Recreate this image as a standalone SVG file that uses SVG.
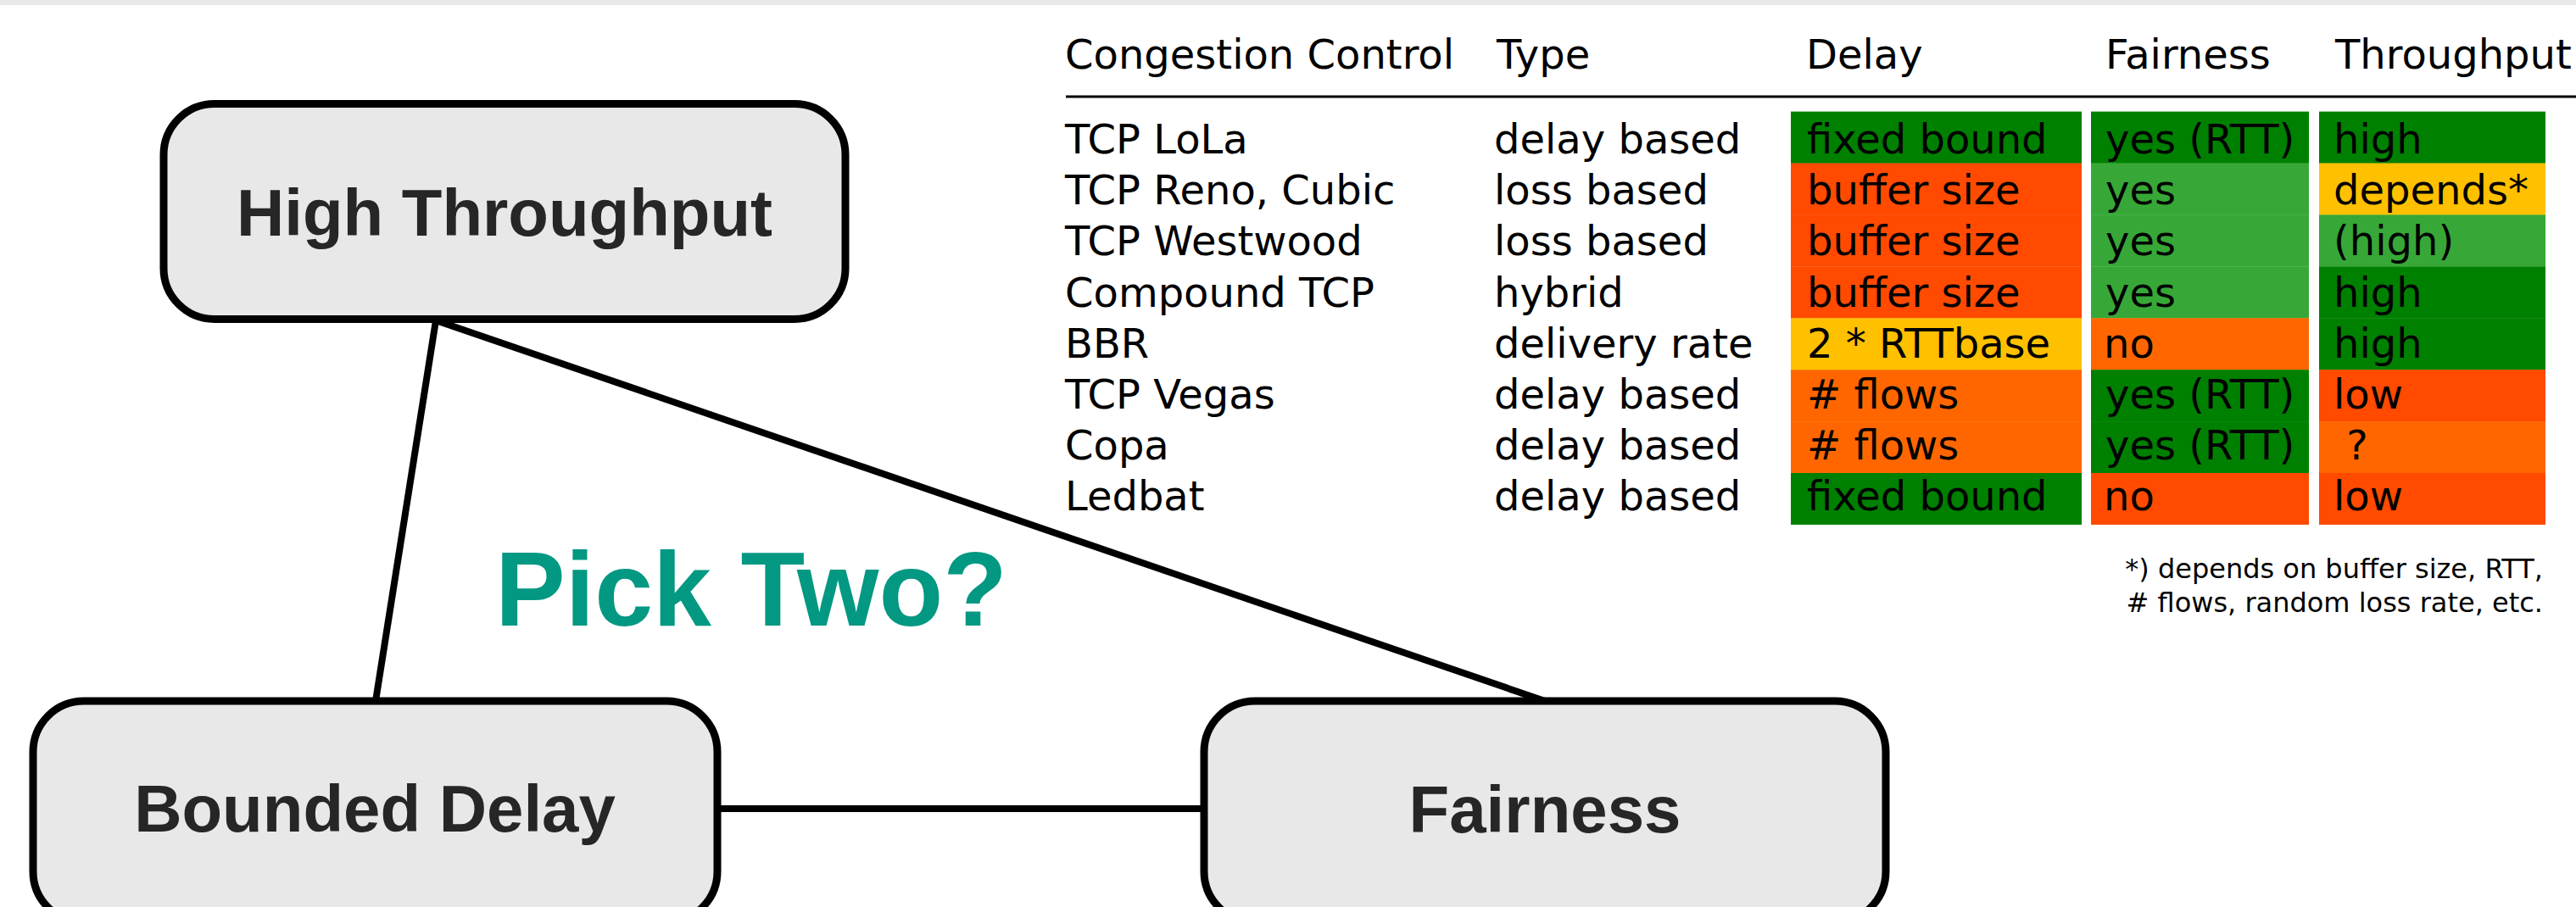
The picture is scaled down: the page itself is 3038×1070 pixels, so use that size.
<svg xmlns="http://www.w3.org/2000/svg" width="3038" height="1070" viewBox="0 0 3038 1070">
<style>
.node rect{fill:#e8e8e8;stroke:#000;stroke-width:9}
.node text{font-family:"Liberation Sans",Arial,sans-serif;font-weight:bold;font-size:78px;fill:#262626;text-anchor:middle}
.conn line{stroke:#000;stroke-width:8}
.t{font-family:"DejaVu Sans",Verdana,sans-serif;font-size:48px;fill:#000}
.fn{font-family:"DejaVu Sans",Verdana,sans-serif;font-size:32px;fill:#000;text-anchor:end}
.dg{fill:#008000}.lg{fill:#37a837}.ro{fill:#ff4a00}.or{fill:#ff6600}.ye{fill:#ffc000}
</style>
<rect x="0" y="0" width="3038" height="1070" fill="#fff"/>
<rect x="0" y="0" width="3038" height="6" fill="#e8e8e8"/>
<g id="connectors" class="conn">
<line x1="514" y1="378" x2="443" y2="827"/>
<line x1="514" y1="378" x2="1822" y2="827"/>
<line x1="846" y1="954" x2="1420" y2="954"/>
</g>
<g id="node-high-throughput" class="node">
<rect x="193" y="122.5" width="804" height="254" rx="60" ry="60"/>
<text x="595" y="278" textLength="632" lengthAdjust="spacingAndGlyphs">High Throughput</text>
</g>
<g id="node-bounded-delay" class="node">
<rect x="39" y="827" width="807" height="261" rx="60" ry="60"/>
<text x="442" y="981">Bounded Delay</text>
</g>
<g id="node-fairness" class="node">
<rect x="1420" y="827" width="804" height="261" rx="60" ry="60"/>
<text x="1822" y="982">Fairness</text>
</g>
<g id="label-pick-two">
<text x="584" y="737.5" font-family="Liberation Sans, Arial, sans-serif" font-weight="bold" font-size="124" fill="#029882">Pick Two?</text>
</g>
<g id="table">
<g id="cells">
<rect class="dg" x="2112" y="131.6" width="343" height="61.3"/>
<rect class="ro" x="2112" y="192.5" width="343" height="61.3"/>
<rect class="ro" x="2112" y="253.4" width="343" height="61.3"/>
<rect class="ro" x="2112" y="314.4" width="343" height="61.3"/>
<rect class="ye" x="2112" y="375.3" width="343" height="61.3"/>
<rect class="or" x="2112" y="436.2" width="343" height="61.3"/>
<rect class="or" x="2112" y="497.1" width="343" height="61.3"/>
<rect class="dg" x="2112" y="558.0" width="343" height="61"/>
<rect class="dg" x="2466" y="131.6" width="257" height="61.3"/>
<rect class="lg" x="2466" y="192.5" width="257" height="61.3"/>
<rect class="lg" x="2466" y="253.4" width="257" height="61.3"/>
<rect class="lg" x="2466" y="314.4" width="257" height="61.3"/>
<rect class="or" x="2466" y="375.3" width="257" height="61.3"/>
<rect class="dg" x="2466" y="436.2" width="257" height="61.3"/>
<rect class="dg" x="2466" y="497.1" width="257" height="61.3"/>
<rect class="ro" x="2466" y="558.0" width="257" height="61"/>
<rect class="dg" x="2735" y="131.6" width="267" height="61.3"/>
<rect class="ye" x="2735" y="192.5" width="267" height="61.3"/>
<rect class="lg" x="2735" y="253.4" width="267" height="61.3"/>
<rect class="dg" x="2735" y="314.4" width="267" height="61.3"/>
<rect class="dg" x="2735" y="375.3" width="267" height="61.3"/>
<rect class="ro" x="2735" y="436.2" width="267" height="61.3"/>
<rect class="or" x="2735" y="497.1" width="267" height="61.3"/>
<rect class="ro" x="2735" y="558.0" width="267" height="61"/>
</g>
<g id="header">
<text class="t" x="1256" y="81">Congestion Control</text>
<text class="t" x="1765" y="81">Type</text>
<text class="t" x="2130" y="81">Delay</text>
<text class="t" x="2483" y="81">Fairness</text>
<text class="t" x="2754" y="81">Throughput</text>
<line x1="1257" y1="114" x2="3038" y2="114" stroke="#000" stroke-width="3"/>
</g>
<g id="col-name">
<text class="t" x="1256" y="181">TCP LoLa</text>
<text class="t" x="1256" y="241.2">TCP Reno, Cubic</text>
<text class="t" x="1256" y="301.4">TCP Westwood</text>
<text class="t" x="1256" y="361.6">Compound TCP</text>
<text class="t" x="1256" y="421.8">BBR</text>
<text class="t" x="1256" y="482">TCP Vegas</text>
<text class="t" x="1256" y="542.2">Copa</text>
<text class="t" x="1256" y="602.4">Ledbat</text>
</g>
<g id="col-type">
<text class="t" x="1762" y="181">delay based</text>
<text class="t" x="1762" y="241.2">loss based</text>
<text class="t" x="1762" y="301.4">loss based</text>
<text class="t" x="1762" y="361.6">hybrid</text>
<text class="t" x="1762" y="421.8">delivery rate</text>
<text class="t" x="1762" y="482">delay based</text>
<text class="t" x="1762" y="542.2">delay based</text>
<text class="t" x="1762" y="602.4">delay based</text>
</g>
<g id="col-delay">
<text class="t" x="2131" y="181">fixed bound</text>
<text class="t" x="2131" y="241.2">buffer size</text>
<text class="t" x="2131" y="301.4">buffer size</text>
<text class="t" x="2131" y="361.6">buffer size</text>
<text class="t" x="2131" y="421.8">2 * RTTbase</text>
<text class="t" x="2131" y="482"># flows</text>
<text class="t" x="2131" y="542.2"># flows</text>
<text class="t" x="2131" y="602.4">fixed bound</text>
</g>
<g id="col-fairness">
<text class="t" x="2483" y="181">yes (RTT)</text>
<text class="t" x="2483" y="241.2">yes</text>
<text class="t" x="2483" y="301.4">yes</text>
<text class="t" x="2483" y="361.6">yes</text>
<text class="t" x="2481" y="421.8">no</text>
<text class="t" x="2483" y="482">yes (RTT)</text>
<text class="t" x="2483" y="542.2">yes (RTT)</text>
<text class="t" x="2481" y="602.4">no</text>
</g>
<g id="col-throughput">
<text class="t" x="2752" y="181">high</text>
<text class="t" x="2752" y="241.2">depends*</text>
<text class="t" x="2752" y="301.4">(high)</text>
<text class="t" x="2752" y="361.6">high</text>
<text class="t" x="2752" y="421.8">high</text>
<text class="t" x="2752" y="482">low</text>
<text class="t" x="2752" y="542.2" xml:space="preserve"> ?</text>
<text class="t" x="2752" y="602.4">low</text>
</g>
<g id="footnote">
<text class="fn" x="2999" y="682">*) depends on buffer size, RTT,</text>
<text class="fn" x="2999" y="722"># flows, random loss rate, etc.</text>
</g>
</g>
</svg>
